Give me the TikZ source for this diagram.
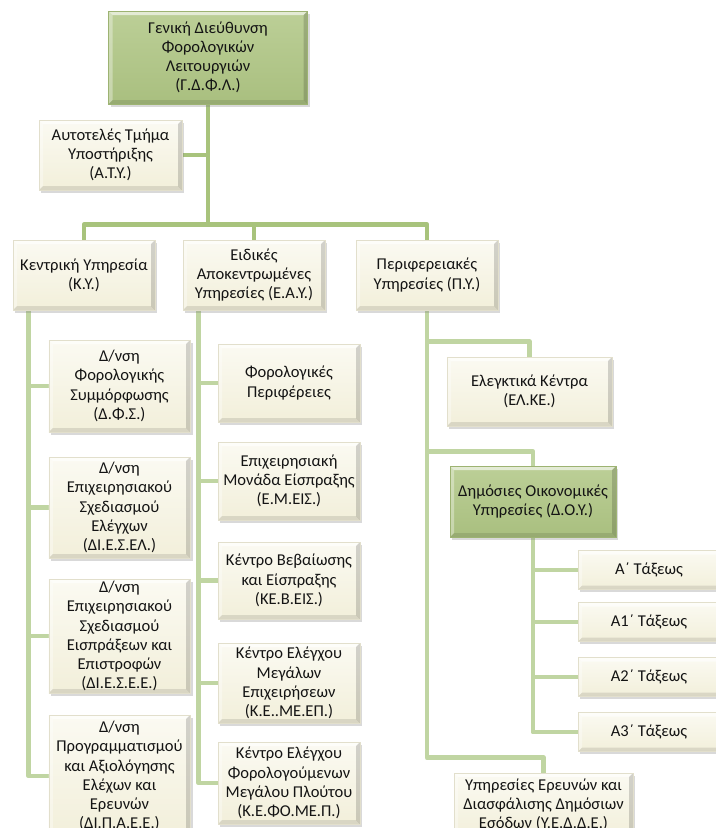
\documentclass[tikz,border=0pt]{standalone}
\usepackage{fontspec}
\setmainfont{Carlito}
\usetikzlibrary{shadows,backgrounds}

\definecolor{creamtop}{HTML}{FBFAF2}
\definecolor{creambot}{HTML}{F2EFDA}
\definecolor{creamedge}{HTML}{E2DFCC}
\definecolor{greentop}{HTML}{BCCF97}
\definecolor{greenbot}{HTML}{A9BF7F}
\definecolor{greenedge}{HTML}{9DB372}
\definecolor{linkgreen}{HTML}{A8C37C}
\definecolor{linklight}{HTML}{C0D5A2}
\definecolor{txtgray}{HTML}{141414}

\tikzset{
  bevel/.style={path picture={
    \fill[white, opacity=.6] (path picture bounding box.north west) -- (path picture bounding box.north east)
      -- ([shift={(-3pt,-3pt)}]path picture bounding box.north east) -- ([shift={(3pt,-3pt)}]path picture bounding box.north west) -- cycle;
    \fill[white, opacity=.35] (path picture bounding box.north west) -- ([shift={(3pt,-3pt)}]path picture bounding box.north west)
      -- ([shift={(3pt,3pt)}]path picture bounding box.south west) -- (path picture bounding box.south west) -- cycle;
    \fill[black, opacity=.10] (path picture bounding box.south west) -- ([shift={(3pt,3pt)}]path picture bounding box.south west)
      -- ([shift={(-3pt,3pt)}]path picture bounding box.south east) -- (path picture bounding box.south east) -- cycle;
    \fill[black, opacity=.16] (path picture bounding box.north east) -- (path picture bounding box.south east)
      -- ([shift={(-3pt,3pt)}]path picture bounding box.south east) -- ([shift={(-3pt,-3pt)}]path picture bounding box.north east) -- cycle;
  }}
}

\begin{document}
\begin{tikzpicture}[x=0.75pt, y=-0.75pt,
  every node/.style={font=\fontsize{12.4}{14.4}\selectfont, text=txtgray},
  orgbox/.style={rectangle, align=center, inner sep=1.2pt, minimum width=106.5pt,
    top color=creamtop, bottom color=creambot, draw=creamedge, line width=0.4pt,
    drop shadow={opacity=.3, shadow xshift=1.8pt, shadow yshift=-2.2pt}, bevel},
  greenbox/.style={orgbox, top color=greentop, bottom color=greenbot, draw=greenedge},
  link/.style={line width=3.7pt, draw=linkgreen, line join=round},
  sublink/.style={link, draw=linklight}]
  \useasboundingbox (0,0) rectangle (716,828);
  \clip (0,0) rectangle (716,828);

  % top
  \node[greenbox, minimum width=149.25pt, minimum height=69.75pt] (gdfl) at (208,57.5)
    {Γενική Διεύθυνση\\Φορολογικών\\Λειτουργιών\\(Γ.Δ.Φ.Λ.)};
  \node[orgbox, minimum width=107.25pt, minimum height=52.5pt] (aty) at (110.5,155)
    {Αυτοτελές Τμήμα\\Υποστήριξης\\(Α.Τ.Υ.)};

  % three branches
  \node[orgbox, minimum height=52.5pt] (ky) at (84,275) {Κεντρική Υπηρεσία\\(Κ.Υ.)};
  \node[orgbox, minimum height=52.5pt] (eay) at (254,275) {Ειδικές\\Αποκεντρωμένες\\Υπηρεσίες (Ε.Α.Υ.)};
  \node[orgbox, minimum height=52.5pt] (py) at (427,275) {Περιφερειακές\\Υπηρεσίες (Π.Υ.)};

  % central service
  \node[orgbox, minimum width=106pt, minimum height=69pt] (dfs) at (119.5,386)
    {Δ/νση\\Φορολογικής\\Συμμόρφωσης\\(Δ.Φ.Σ.)};
  \node[orgbox, minimum width=106pt, minimum height=75.75pt] (diesel) at (119.5,507.5)
    {Δ/νση\\Επιχειρησιακού\\Σχεδιασμού\\Ελέγχων\\(ΔΙ.Ε.Σ.ΕΛ.)};
  \node[orgbox, minimum width=106pt, minimum height=85.5pt] (diesee) at (119.5,636)
    {Δ/νση\\Επιχειρησιακού\\Σχεδιασμού\\Εισπράξεων και\\Επιστροφών\\(ΔΙ.Ε.Σ.Ε.Ε.)};
  \node[orgbox, minimum width=106pt, minimum height=91.5pt] (dipaee) at (119.5,776)
    {Δ/νση\\Προγραμματισμού\\και Αξιολόγησης\\Ελέχων και\\Ερευνών\\(ΔΙ.Π.Α.Ε.Ε.)};

  % decentralised services
  \node[orgbox, minimum height=58.5pt] (fp) at (289,383) {Φορολογικές\\Περιφέρειες};
  \node[orgbox, minimum height=58.5pt] (emeis) at (289,481) {Επιχειρησιακή\\Μονάδα Είσπραξης\\(Ε.Μ.ΕΙΣ.)};
  \node[orgbox, minimum height=57.75pt] (kebeis) at (289,580.5) {Κέντρο Βεβαίωσης\\και Είσπραξης\\(ΚΕ.Β.ΕΙΣ.)};
  \node[orgbox, minimum height=60pt] (kemeep) at (289,683) {Κέντρο Ελέγχου\\Μεγάλων\\Επιχειρήσεων\\(Κ.Ε..ΜΕ.ΕΠ.)};
  \node[orgbox, minimum height=61.5pt] (kefomep) at (289,783) {Κέντρο Ελέγχου\\Φορολογούμενων\\Μεγάλου Πλούτου\\(Κ.Ε.ΦΟ.ΜΕ.Π.)};

  % regional services
  \node[orgbox, minimum width=123.75pt, minimum height=51.75pt] (elke) at (529.5,391.5) {Ελεγκτικά Κέντρα\\(ΕΛ.ΚΕ.)};
  \node[greenbox, minimum width=124.5pt, minimum height=53.25pt] (doy) at (533,501.5) {Δημόσιες Οικονομικές\\Υπηρεσίες (Δ.Ο.Υ.)};
  \node[orgbox, minimum width=134.25pt, minimum height=48pt] (yedde) at (543.5,805)
    {Υπηρεσίες Ερευνών και\\Διασφάλισης Δημόσιων\\Εσόδων (Υ.Ε.Δ.Δ.Ε.)};
  \node[orgbox, minimum height=29.25pt] (taxA) at (649,570) {Α΄ Τάξεως};
  \node[orgbox, minimum height=29.25pt] (taxAa) at (649,622) {Α1΄ Τάξεως};
  \node[orgbox, minimum height=29.25pt] (taxAb) at (649,677) {Α2΄ Τάξεως};
  \node[orgbox, minimum height=29.25pt] (taxAc) at (649,732) {Α3΄ Τάξεως};

  % connectors
  \begin{scope}[on background layer]
    \draw[link] (gdfl.south) -- ++(0,121);
    \draw[link] (aty.east) -- (aty.east -| gdfl.south);
    \draw[link] (ky.north) -- ++(0,-15) -| (py.north);
    \draw[link] (eay.north) -- ++(0,-15);
    \foreach \n in {dfs,diesel,diesee,dipaee}
      \draw[sublink] (ky.south west) ++(16,0) |- (\n.west);
    \foreach \n in {fp,emeis,kebeis,kemeep,kefomep}
      \draw[sublink] (eay.south west) ++(16,0) |- (\n.west);
    \foreach \n/\d in {elke/15,doy/14,yedde/15}
      \draw[sublink] (\n.north) -- ++(0,-\d) -| (py.south);
    \foreach \n in {taxA,taxAa,taxAb,taxAc}
      \draw[sublink] (doy.south) |- (\n.west);
  \end{scope}
\end{tikzpicture}
\end{document}
